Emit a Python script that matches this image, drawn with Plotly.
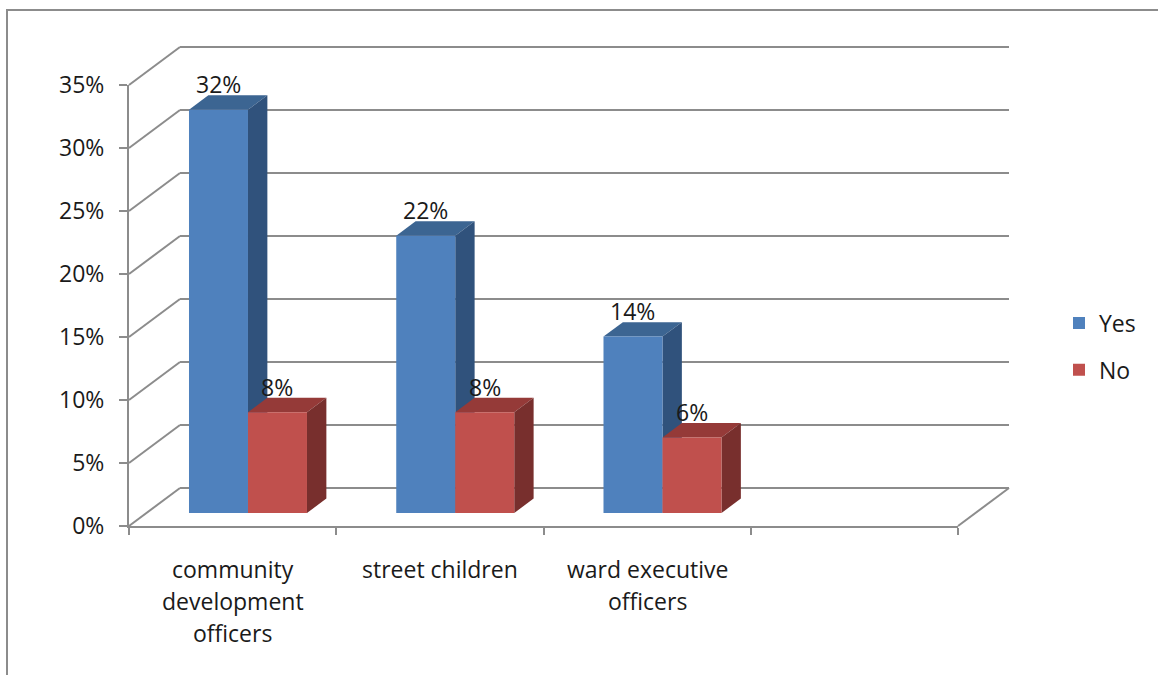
import plotly.graph_objects as go

# ---- data ----
categories = ["community development officers", "street children", "ward executive officers"]
category_lines = [["community", "development", "officers"], ["street children"], ["ward executive", "officers"]]
series_names = ["Yes", "No"]
yes_values = [32, 22, 14]
no_values = [8, 8, 6]
y_ticks = [0, 5, 10, 15, 20, 25, 30, 35]
y_tick_labels = [f"{v}%" for v in y_ticks]

# ---- styling / geometry of the pseudo-3D frame ----
W, H = 1158, 675
FONT = "Open Sans"
FS = 23
TEXT = "#1a1a1a"
GRID = "#8c8c8c"
front_colors = ["#4F81BD", "#C0504D"]
top_colors = ["#3C6592", "#953A38"]
side_colors = ["#30527C", "#782F2D"]

N_SLOTS = 4                      # category slots along the floor (last one empty)
Y_MAX = 35
# front plane in pixels
PX_LEFT, PX_RIGHT = 129, 958
PX_BOTTOM, PX_TOP = 526, 85
ux = (PX_RIGHT - PX_LEFT) / N_SLOTS      # px per category slot
uy = (PX_BOTTOM - PX_TOP) / Y_MAX        # px per percent
DX = 51 / ux                              # depth offset (data units)
DY = 38 / uy
F0 = 0.342                                # depth of the bar front faces
BD = 0.38                                 # bar depth (fraction of floor depth)
BW = 59 / ux                              # bar width
PAIR_C = 0.49                             # pair centre inside a slot

fig = go.Figure()

shapes = []
line_style = dict(color=GRID, width=2)
# side wall diagonals + back wall gridlines
for v in y_ticks:
    shapes.append(dict(type="line", xref="x", yref="y", x0=0, y0=v, x1=DX, y1=v + DY,
                       line=line_style, layer="below"))
    shapes.append(dict(type="line", xref="x", yref="y", x0=DX, y0=v + DY, x1=N_SLOTS + DX, y1=v + DY,
                       line=line_style, layer="below"))
# floor right edge
shapes.append(dict(type="line", xref="x", yref="y", x0=N_SLOTS, y0=0, x1=N_SLOTS + DX, y1=DY,
                   line=line_style, layer="below"))

annotations = []
base = DY * F0
for i in range(len(categories)):
    for s, vals in enumerate([yes_values, no_values]):
        v = vals[i]
        left = i + PAIR_C + DX * F0 - BW + s * BW
        right = left + BW
        top = base + v
        ddx, ddy = DX * BD, DY * BD
        top_path = (f"M{left},{top} L{right},{top} L{right + ddx},{top + ddy} "
                    f"L{left + ddx},{top + ddy} Z")
        side_path = (f"M{right},{base} L{right},{top} L{right + ddx},{top + ddy} "
                     f"L{right + ddx},{base + ddy} Z")
        shapes.append(dict(type="path", xref="x", yref="y", path=top_path,
                           fillcolor=top_colors[s], line=dict(width=0), layer="below"))
        shapes.append(dict(type="path", xref="x", yref="y", path=side_path,
                           fillcolor=side_colors[s], line=dict(width=0), layer="below"))
        annotations.append(dict(x=(left + right) / 2, y=top + ddy, xref="x", yref="y",
                                text=f"{v}%", showarrow=False, yanchor="bottom", yshift=-7,
                                font=dict(family=FONT, size=FS, color=TEXT)))

# front faces of the columns
for s, (name, vals) in enumerate(zip(series_names, [yes_values, no_values])):
    xs = [i + PAIR_C + DX * F0 - BW / 2 + s * BW for i in range(len(categories))]
    fig.add_trace(go.Bar(
        x=xs, y=vals, base=[base] * len(vals), width=[BW] * len(vals),
        name=name, marker=dict(color=front_colors[s], line=dict(width=0)),
        legendgroup=name, hoverinfo="skip", xaxis="x", yaxis="y",
    ))

# category labels under the floor
for i, lines in enumerate(category_lines):
    for j, line in enumerate(lines):
        annotations.append(dict(x=i + 0.5, y=0, xref="x", yref="y", text=line,
                                showarrow=False, yanchor="middle", yshift=-43 - 32 * j,
                                font=dict(family=FONT, size=FS, color=TEXT)))

# outer chart frame
shapes.append(dict(type="path", xref="paper", yref="paper",
                   path=f"M{7 / W},0 L{7 / W},{1 - 10 / H} L1,{1 - 10 / H}",
                   line=dict(color=GRID, width=2)))

# full-canvas axes used for the 3D geometry
x_rng = [-PX_LEFT / ux, (W - PX_LEFT) / ux]
y_rng = [-(H - PX_BOTTOM) / uy, PX_BOTTOM / uy]

fig.update_layout(
    width=W, height=H,
    margin=dict(l=0, r=0, t=0, b=0, pad=0, autoexpand=False),
    paper_bgcolor="white", plot_bgcolor="rgba(0,0,0,0)",
    barmode="overlay",
    showlegend=True,
    legend=dict(x=1059 / W, y=1 - 346.5 / H, xanchor="left", yanchor="middle",
                font=dict(family=FONT, size=FS, color=TEXT), tracegroupgap=14,
                bgcolor="rgba(0,0,0,0)"),
    xaxis=dict(domain=[0, 1], range=x_rng, visible=False, anchor="y", fixedrange=True,
               automargin=False),
    yaxis=dict(domain=[0, 1], range=y_rng, visible=False, anchor="x", fixedrange=True,
               automargin=False),
    # front axes: floor edge with category boundary ticks, and the value axis
    xaxis2=dict(domain=[PX_LEFT / W, PX_RIGHT / W], range=[0, N_SLOTS], anchor="y2",
                showline=True, linecolor=GRID, linewidth=2, ticks="outside", ticklen=7,
                tickwidth=2, tickcolor=GRID, tickvals=list(range(N_SLOTS + 1)),
                showticklabels=False, showgrid=False, zeroline=False, fixedrange=True,
                automargin=False),
    yaxis2=dict(domain=[(H - PX_BOTTOM) / H, (H - PX_TOP) / H], range=[0, Y_MAX], anchor="x2",
                showline=True, linecolor=GRID, linewidth=2, ticks="outside", ticklen=8,
                tickwidth=2, tickcolor=GRID, tickvals=y_ticks, ticktext=y_tick_labels,
                ticklabelstandoff=10,
                tickfont=dict(family=FONT, size=FS, color=TEXT),
                showgrid=False, zeroline=False, fixedrange=True, automargin=False),
    shapes=shapes,
    annotations=annotations,
)

# invisible trace so the front axes are drawn
fig.add_trace(go.Scatter(x=[None], y=[None], xaxis="x2", yaxis="y2", showlegend=False,
                         hoverinfo="skip"))

fig.write_html("out.html")
